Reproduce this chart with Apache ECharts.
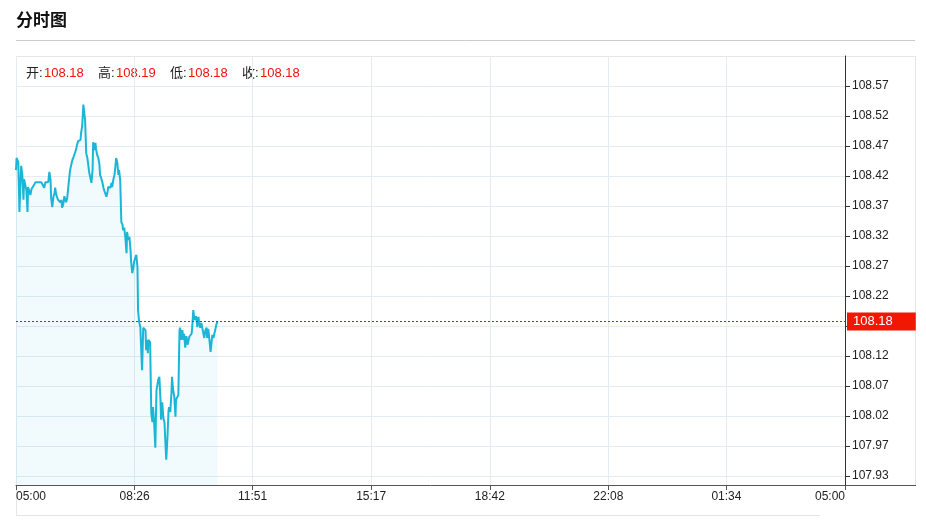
<!DOCTYPE html>
<html><head><meta charset="utf-8">
<script src="https://cdn.jsdelivr.net/npm/echarts@6/dist/echarts.min.js"></script>
<style>html,body{margin:0;padding:0;background:#fff}#c{width:926px;height:526px}</style>
</head><body><div id="c"></div>
<script>
// minutes after 05:00
const minutes = [0,1,2,4,6,7,9,11,13,14,16,18,20,21,23,25,27,30,34,37,40,44,47,49,51,54,56,58,60,61,63,65,67,68,70,72,73,75,77,79,80,82,84,86,87,89,91,93,94,96,98,100,101,103,105,106,108,110,112,113,115,117,119,120,122,124,126,127,129,131,133,134,136,138,139,141,143,145,146,148,150,152,153,155,157,159,160,162,164,166,167,169,171,172,174,176,178,179,181,183,185,186,188,190,192,193,195,197,199,200,202,204,205,207,209,211,212,214,216,218,219,221,223,225,226,228,229,230,232,233,235,237,238,240,242,244,245,247,249,251,252,254,256,258,259,261,263,265,266,268,270,271,273,275,277,278,280,282,284,285,287,289,291,292,294,296,298,299,301,303,305,306,308,310,311,313,315,317,318,320,322,324,325,327,329,331,332,334,336,338,339,341,343,344,346,348,350];
const prices = [108.430,108.450,108.450,108.443,108.361,108.389,108.437,108.422,108.381,108.415,108.406,108.397,108.361,108.402,108.401,108.389,108.399,108.401,108.410,108.410,108.410,108.410,108.410,108.401,108.410,108.410,108.410,108.427,108.414,108.384,108.369,108.386,108.392,108.401,108.389,108.386,108.381,108.384,108.377,108.381,108.368,108.373,108.387,108.384,108.377,108.384,108.404,108.422,108.430,108.439,108.447,108.452,108.455,108.460,108.467,108.472,108.478,108.480,108.480,108.491,108.503,108.538,108.539,108.513,108.458,108.450,108.435,108.427,108.430,108.409,108.430,108.476,108.463,108.475,108.465,108.455,108.450,108.439,108.422,108.417,108.410,108.401,108.397,108.392,108.386,108.394,108.402,108.404,108.401,108.409,108.402,108.414,108.422,108.430,108.450,108.442,108.422,108.430,108.414,108.344,108.340,108.331,108.335,108.318,108.293,108.328,108.315,108.320,108.298,108.278,108.260,108.270,108.278,108.285,108.290,108.270,108.199,108.179,108.171,108.122,108.100,108.170,108.170,108.166,108.133,108.150,108.128,108.150,108.150,108.146,108.029,108.014,108.039,108.013,107.972,108.067,108.072,108.084,108.089,108.051,108.018,108.047,108.021,108.013,107.990,107.952,107.988,108.034,108.039,108.031,108.062,108.089,108.067,108.056,108.023,108.051,108.054,108.059,108.166,108.170,108.150,108.166,108.150,108.160,108.137,108.156,108.142,108.146,108.155,108.156,108.160,108.170,108.199,108.183,108.186,108.189,108.171,108.188,108.179,108.170,108.178,108.168,108.171,108.153,108.166,108.170,108.153,108.168,108.150,108.130,108.133,108.158,108.153,108.158,108.166,108.175,108.181];
const closePrice = 108.18;
const ohlcNames = ['开:','高:','低:','收:'];
const ohlcValues = ['108.18','108.19','108.18','108.18'];
const xTickMinutes = [0,206,411,617,823,1029,1234,1440];
const xTickLabels = ['05:00','08:26','11:51','15:17','18:42','22:08','01:34','05:00'];
const yTickValues = [107.9253,107.9748,108.0243,108.0738,108.1233,108.1728,108.2223,108.2718,108.3213,108.3708,108.4203,108.4698,108.5193,108.5688];
const yMin = 107.9104, yMax = 108.6183;

const chart = echarts.init(document.getElementById('c'));
const font = '"Liberation Sans", "Noto Sans CJK SC", sans-serif';
const gridColor = '#e4ebf1';
const graphic = [
  {type:'text', x:16, y:20, style:{text:'分时图', font:'bold 17px "Noto Sans CJK SC", sans-serif', fill:'#111', verticalAlign:'middle'}},
  {type:'line', shape:{x1:16,y1:40.5,x2:915,y2:40.5}, style:{stroke:'#cccccc', lineWidth:1}},
  {type:'line', shape:{x1:16,y1:56.5,x2:916,y2:56.5}, style:{stroke:'#e6e6e6', lineWidth:1}},
  {type:'line', shape:{x1:915.5,y1:56,x2:915.5,y2:485}, style:{stroke:'#e6e6e6', lineWidth:1}},
  {type:'line', shape:{x1:16.5,y1:56,x2:16.5,y2:516}, style:{stroke:'#e6e6e6', lineWidth:1}},
  {type:'line', shape:{x1:16,y1:515.5,x2:820,y2:515.5}, style:{stroke:'#e6e6e6', lineWidth:1}},
  {type:'line', shape:{x1:845,y1:485.5,x2:916,y2:485.5}, style:{stroke:'#555', lineWidth:1}}
];
const legendX = [26, 98, 170, 242];
ohlcNames.forEach((n, i) => {
  graphic.push({type:'text', x:legendX[i], y:73, style:{text:n, font:'13px ' + font, fill:'#222', verticalAlign:'middle'}});
  graphic.push({type:'text', x:legendX[i] + 18, y:73, style:{text:ohlcValues[i], font:'13px ' + font, fill:'#f01010', verticalAlign:'middle'}});
});

chart.setOption({
  animation: false,
  backgroundColor: '#fff',
  grid: {left:16, right:81, top:56, bottom:41, containLabel:false, outerBoundsMode:'none'},
  xAxis: {
    type:'value', min:0, max:1440,
    axisLine:{show:true, onZero:false, lineStyle:{color:'#555'}},
    axisTick:{show:true, customValues:xTickMinutes, length:5, lineStyle:{color:'#555'}},
    axisLabel:{customValues:xTickMinutes, formatter:(v)=>xTickLabels[xTickMinutes.indexOf(v)], color:'#222', fontSize:12, fontFamily:font, margin:6, showMinLabel:true, showMaxLabel:true, alignMinLabel:'left', alignMaxLabel:'right'},
    splitLine:{show:true, lineStyle:{color:gridColor}}
  },
  yAxis: {
    type:'value', position:'right', min:yMin, max:yMax,
    axisLine:{show:true, onZero:false, lineStyle:{color:'#333'}},
    axisTick:{show:true, customValues:yTickValues, length:5, lineStyle:{color:'#333'}},
    axisLabel:{customValues:yTickValues, formatter:(v)=>v.toFixed(2), color:'#222', fontSize:12, fontFamily:font, margin:7},
    splitLine:{show:true, lineStyle:{color:gridColor}}
  },
  graphic: graphic,
  series: [{
    type:'line',
    data: minutes.map((m, i) => [m, prices[i]]),
    showSymbol:false, symbol:'none',
    lineStyle:{color:'#1bb6d5', width:2},
    areaStyle:{color:'rgba(27,182,213,0.09)', origin:'start'},
    markLine:{
      silent:true, symbol:'none',
      lineStyle:{color:'#e01010', type:[2,2], width:1},
      label:{show:true, position:'end', distance:2, formatter:closePrice.toFixed(2), color:'#fff', backgroundColor:'#f01800', padding:[3,23,2,6], fontSize:13, fontFamily:font},
      data:[{yAxis:closePrice}]
    }
  }]
});
</script></body></html>
